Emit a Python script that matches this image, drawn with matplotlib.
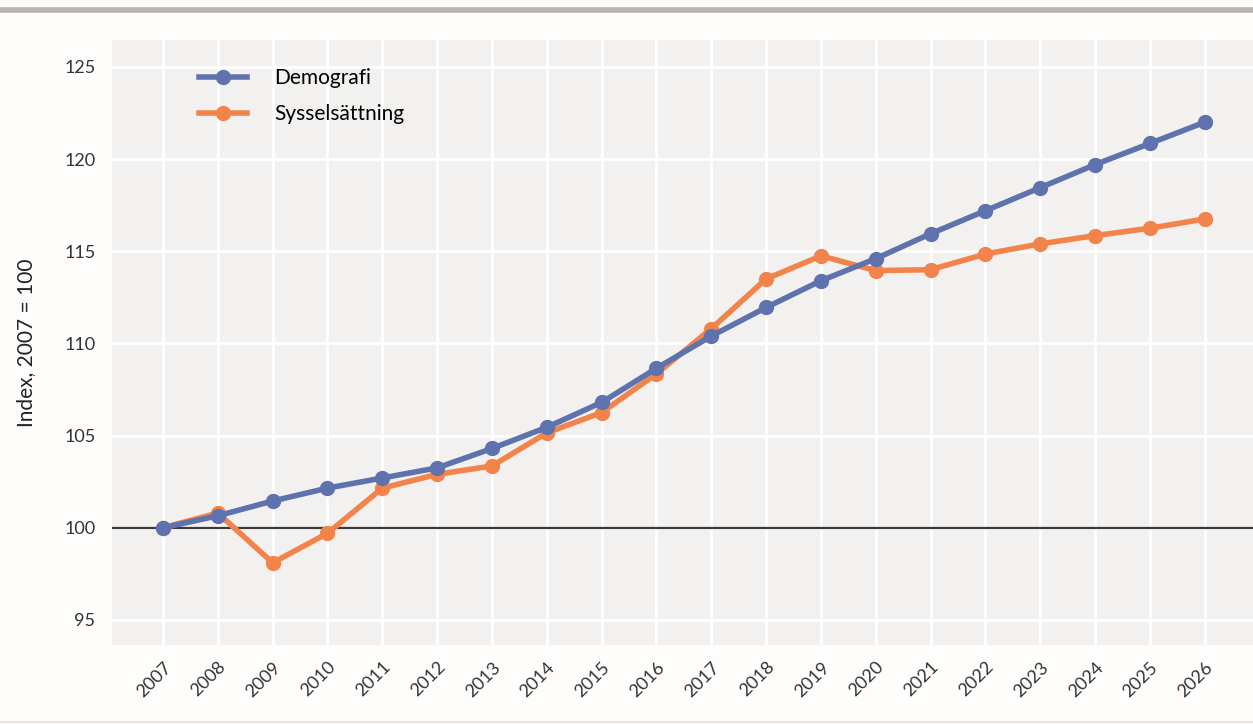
import matplotlib.pyplot as plt
from matplotlib.lines import Line2D

years = list(range(2007, 2027))
demografi = [100.0, 100.65, 101.45, 102.15, 102.7, 103.25, 104.3, 105.45, 106.8, 108.65,
             110.4, 111.95, 113.4, 114.6, 115.95, 117.2, 118.45, 119.7, 120.85, 122.0]
syssel = [100.0, 100.8, 98.1, 99.7, 102.15, 102.9, 103.35, 105.15, 106.25, 108.35,
          110.8, 113.5, 114.75, 113.95, 114.0, 114.85, 115.4, 115.85, 116.25, 116.75]
y_ticks = [95, 100, 105, 110, 115, 120, 125]

blue = '#5e72ad'
orange = '#f2844b'

plt.rcParams['font.family'] = ['Lato', 'DejaVu Sans']

fig = plt.figure(figsize=(12.53, 7.24), dpi=100, facecolor='#fefdfc')
ax = fig.add_axes([112 / 1253, 1 - 645 / 724, (1253 - 112) / 1253, (645 - 40) / 724])
ax.set_facecolor('#f3f1ef')

x = list(range(len(years)))
ax.axhline(100, color='#3a3a3a', lw=1.6, zorder=2)
ax.plot(x, demografi, color=blue, lw=4, marker='o', ms=10, zorder=4, label='Demografi')
ax.plot(x, syssel, color=orange, lw=4, marker='o', ms=10, zorder=3, label='Sysselsättning')

ax.set_xlim(-0.93, 19.88)
ax.set_ylim(93.64, 126.46)
ax.set_xticks(x)
ax.set_xticklabels([str(y) for y in years], rotation=45, ha='right', rotation_mode='anchor',
                   fontsize=13, color='#333333')
ax.set_yticks(y_ticks)
ax.set_yticklabels([str(v) for v in y_ticks], fontsize=13, color='#333333')
ax.tick_params(length=0, pad=12)
ax.tick_params(axis='x', pad=10)
ax.grid(True, color='white', lw=2, zorder=0)
ax.set_axisbelow(True)
for s in ax.spines.values():
    s.set_visible(False)

ax.set_ylabel('Index, 2007 = 100', fontsize=15, color='#222222', labelpad=20)

ax.legend(loc='upper left', bbox_to_anchor=(0.06, 0.984), frameon=False, fontsize=15,
          handlelength=2.3, labelspacing=0.75, handletextpad=1.3)

# top rule and bottom rule of the page
fig.add_artist(Line2D([0, 1], [1 - 10 / 724, 1 - 10 / 724], color='#b8b4ae', lw=4))
fig.add_artist(Line2D([0, 1], [1 - 722 / 724, 1 - 722 / 724], color='#e6e4e2', lw=1.5))

fig.savefig('out.png', dpi=100, facecolor=fig.get_facecolor())
